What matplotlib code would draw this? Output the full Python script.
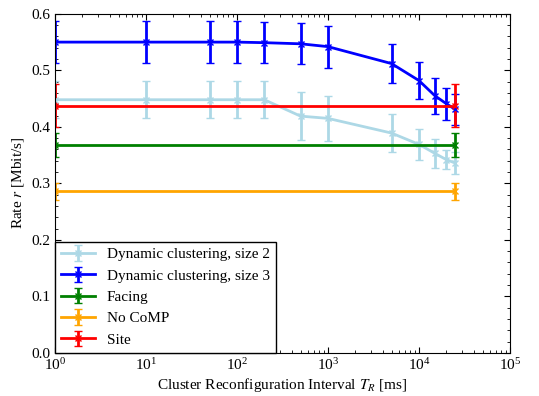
import matplotlib.pyplot as plt
import numpy as np
from matplotlib.ticker import MultipleLocator

# Data
t_r = [1, 10, 50, 100, 200, 500, 1000, 5000, 10000, 15000, 20000, 25000]
dyn2 = [0.448, 0.448, 0.448, 0.448, 0.448, 0.419, 0.415, 0.389, 0.369, 0.353, 0.342, 0.336]
dyn2_err = [0.033, 0.033, 0.033, 0.033, 0.033, 0.042, 0.040, 0.033, 0.028, 0.025, 0.017, 0.020]
dyn3 = [0.550, 0.550, 0.550, 0.550, 0.549, 0.547, 0.542, 0.512, 0.482, 0.455, 0.441, 0.431]
dyn3_err = [0.037, 0.037, 0.037, 0.037, 0.036, 0.036, 0.037, 0.034, 0.032, 0.032, 0.028, 0.027]

t_static = [1, 25000]
facing = [0.368, 0.368]
facing_err = [0.021, 0.021]
nocomp = [0.286, 0.286]
nocomp_err = [0.015, 0.015]
site = [0.437, 0.437]
site_err = [0.038, 0.038]

plt.rcParams['font.family'] = ['Liberation Serif', 'DejaVu Serif']
plt.rcParams['mathtext.fontset'] = 'stix'

fig = plt.figure(figsize=(5.39, 3.96), dpi=100)
ax = fig.add_axes([0.102, 0.109, 0.844, 0.856])

style = dict(marker='x', linewidth=2, elinewidth=2, capsize=3, capthick=1.2,
             markersize=5, markeredgewidth=1)
ax.errorbar(t_r, dyn2, yerr=dyn2_err, color='lightblue', label='Dynamic clustering, size 2', **style)
ax.errorbar(t_r, dyn3, yerr=dyn3_err, color='blue', label='Dynamic clustering, size 3', **style)
ax.errorbar(t_static, facing, yerr=facing_err, color='green', label='Facing', **style)
ax.errorbar(t_static, nocomp, yerr=nocomp_err, color='orange', label='No CoMP', **style)
ax.errorbar(t_static, site, yerr=site_err, color='red', label='Site', **style)

ax.set_xscale('log')
ax.set_xlim(1, 1e5)
ax.set_ylim(0, 0.6)
ax.yaxis.set_major_locator(MultipleLocator(0.1))
ax.yaxis.set_minor_locator(MultipleLocator(0.02))
ax.tick_params(which='both', direction='in', top=True, right=True, labelsize=11, pad=3)
ax.tick_params(which='major', length=4)
ax.tick_params(which='minor', length=2)

ax.set_xlabel(r'Cluster Reconfiguration Interval $T_R$ [ms]', fontsize=11, labelpad=2)
ax.set_ylabel(r'Rate $r$ [Mbit/s]', fontsize=11, labelpad=4)

leg = ax.legend(loc='lower left', fontsize=11, fancybox=False, framealpha=1,
                edgecolor='black', borderaxespad=0, handlelength=2.2)
leg.get_frame().set_linewidth(1)

fig.savefig('out.png', dpi=100)
